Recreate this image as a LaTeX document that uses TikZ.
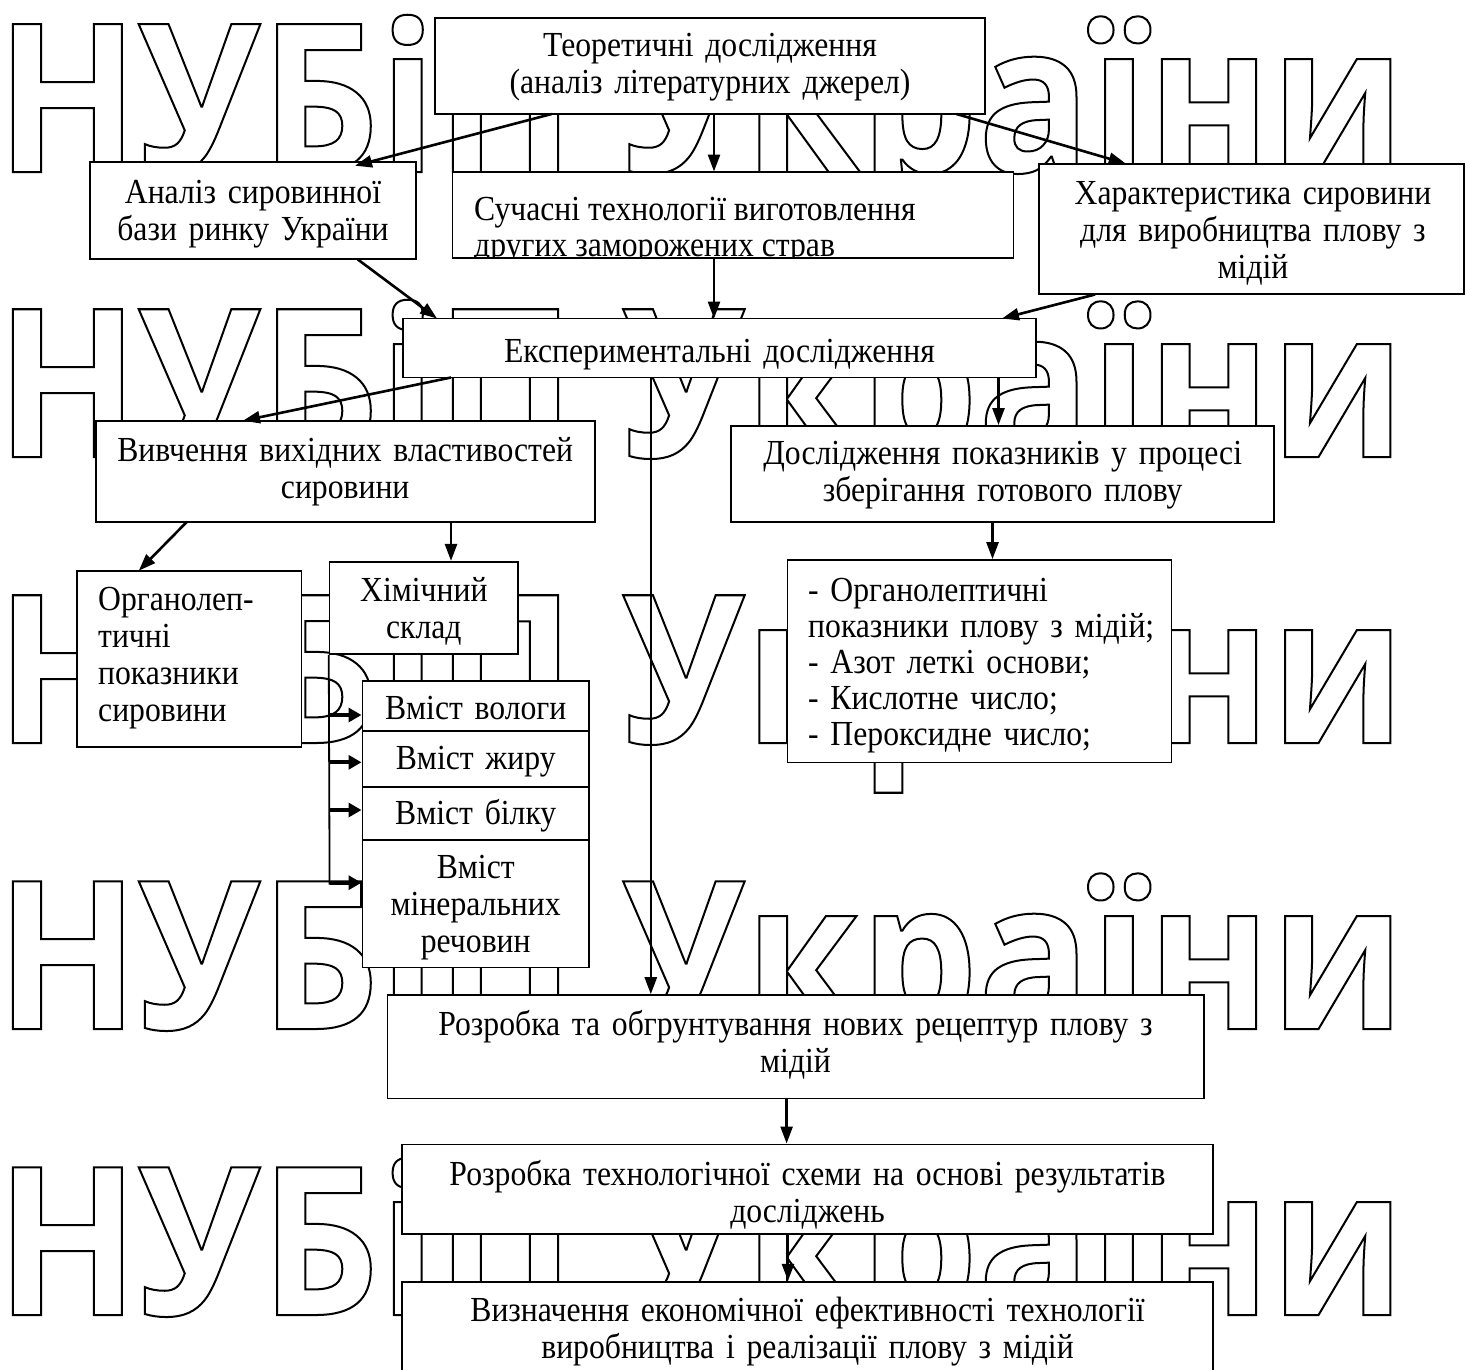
\documentclass[tikz,border=0pt]{standalone}
\usepackage{fontspec}
\setmainfont{Liberation Serif}[FakeStretch=0.9]
\newfontfamily\wmfont{Open Sans}[FakeStretch=0.9]
\usetikzlibrary{arrows.meta}
\begin{document}
\begin{tikzpicture}[x=1pt,y=-1pt,
  txt/.style={font=\fontsize{35.2}{37}\selectfont, inner sep=0pt},
  ctxt/.style={txt, align=center, anchor=base},
  ltxt/.style={txt, align=left, anchor=base west},
  box/.style={draw, line width=1.7pt, fill=white, inner sep=0pt},
  conn/.style={line width=2.6pt, -{Triangle[length=17pt,width=12pt]}},
  plain/.style={line width=1.8pt},
  fat/.style={line width=4pt, -{Triangle[length=13pt,width=14pt]}},
  wm/.style={anchor=base west, inner sep=0pt, font=\wmfont\bfseries\fontsize{207}{207}\selectfont}
]
\useasboundingbox (0,0) rectangle (1466,1369);
\fill[white] (0,0) rectangle (1466,1369);
% watermark
\foreach \yy [count=\i] in {172,457,743,1029,1315}
  \node[wm] (wm\i) at (-4,\yy) {\special{pdf:literal direct 1 Tr 2 w}НУБіП України\special{pdf:literal direct 0 Tr}};
% boxes
\node[box, minimum width=550pt, minimum height=96pt] (teor) at (710,66) {};
\node[ctxt, text width=550pt] (teort) at (710,56.5) {Теоретичні дослідження\\(аналіз літературних джерел)};
\node[box, minimum width=326pt, minimum height=97pt] (anal) at (253,210.5) {};
\node[ctxt, text width=326pt] (analt) at (253,203) {Аналіз сировинної\\бази ринку України};
\node[box, minimum width=561pt, minimum height=86pt] (such) at (733,215.3) {};
\begin{scope}
  \clip (452,172) rectangle (1013,257.4);
  \node[txt, anchor=base west] (such1) at (474,220) {Сучасні технології виготовлення};
  \node[txt, anchor=base west] (such2) at (474,256) {других заморожених страв};
\end{scope}
\node[box, minimum width=425pt, minimum height=130pt] (char) at (1251.5,229) {};
\node[ctxt, text width=425pt] (chart) at (1253,204.5) {Характеристика сировини\\для виробництва плову з\\мідій};
\node[box, minimum width=633pt, minimum height=59pt] (eksp) at (719.5,348) {};
\node[ctxt, text width=633pt] (ekspt) at (719.5,362) {Експериментальні дослідження};
\node[box, minimum width=499pt, minimum height=101pt] (vyv) at (345.2,471.2) {};
\node[ctxt, text width=499pt] (vyvt) at (345.2,461) {Вивчення вихідних властивостей\\сировини};
\node[box, minimum width=543pt, minimum height=96pt] (dosl) at (1002.7,473.9) {};
\node[ctxt, text width=543pt] (doslt) at (1002.7,464) {Дослідження показників у процесі\\зберігання готового плову};
\node[box, minimum width=224.5pt, minimum height=176pt] (org) at (189.2,658.7) {};
\node[ltxt, text width=200pt] (orgt) at (98,610) {Органолеп-\\тичні\\показники\\сировини};
\node[box, minimum width=188.4pt, minimum height=92.3pt] (him) at (423.8,607.9) {};
\node[ctxt, text width=188pt] (himt) at (423.8,601) {Хімічний\\склад};
\node[box, minimum width=226.7pt, minimum height=50.3pt] (s1) at (475.7,705.9) {};
\node[ctxt, text width=226pt] (s1t) at (475.7,719) {Вміст вологи};
\node[box, minimum width=226.7pt, minimum height=55.7pt] (s2) at (475.7,758.9) {};
\node[ctxt, text width=226pt] (s2t) at (475.7,769) {Вміст жиру};
\node[box, minimum width=226.7pt, minimum height=53.3pt] (s3) at (475.7,813.4) {};
\node[ctxt, text width=226pt] (s3t) at (475.7,824) {Вміст білку};
\node[box, minimum width=226.7pt, minimum height=127.3pt] (s4) at (475.7,903.7) {};
\node[ctxt, text width=226pt] (s4t) at (475.7,878) {Вміст\\мінеральних\\речовин};
\node[box, minimum width=384pt, minimum height=202.5pt] (list) at (979.5,661.2) {};
\node[ltxt, text width=370pt, font=\fontsize{35.2}{36.2}\selectfont] (listt) at (808,601) {- Органолептичні\\показники плову з мідій;\\- Азот леткі основи;\\- Кислотне число;\\- Пероксидне число;};
\node[box, minimum width=816.3pt, minimum height=103.3pt] (rozr1) at (795.5,1046.7) {};
\node[ctxt, text width=816pt] (rozr1t) at (795.5,1035.5) {Розробка та обгрунтування нових рецептур плову з\\мідій};
\node[box, minimum width=811pt, minimum height=89.7pt] (rozr2) at (807.5,1189.2) {};
\node[ctxt, text width=811pt] (rozr2t) at (807.5,1185) {Розробка технологічної схеми на основі результатів\\досліджень};
\node[box, minimum width=811pt, minimum height=130pt] (vyzn) at (807.5,1346.7) {};
\node[ctxt, text width=811pt] (vyznt) at (807.5,1321.5) {Визначення економічної ефективності технології\\виробництва і реалізації плову з мідій};
% connectors
\coordinate (t1) at (551.6,114);
\coordinate (t2) at (714,114);
\coordinate (t3) at (956.5,114);
\draw[conn] (t1) -- (355,165.7) coordinate (a1);
\draw[conn] (t2) -- (714,171.5) coordinate (a2);
\draw[conn] (t3) -- (1125.7,163.5) coordinate (a3);
\coordinate (n1) at (357.6,259.3);
\draw[conn] (n1) -- (437,318.5) coordinate (a4);
\coordinate (n2) at (714,258.3);
\draw[conn] (n2) -- (714,318.5) coordinate (a5);
\coordinate (n3) at (1095,294.5);
\draw[conn] (n3) -- (1002,318.5) coordinate (a6);
\coordinate (e1) at (451,377.5);
\draw[conn] (e1) -- (243,420.7) coordinate (a7);
\coordinate (e2) at (650.8,377.5);
\draw[conn] (e2) -- (e2 |- rozr1.north);
\coordinate (e3) at (998.5,377.5);
\draw[conn] (e3) -- (e3 |- dosl.north);
\coordinate (v1) at (187,521.7);
\draw[conn] (v1) -- (138.8,570.7) coordinate (a8);
\coordinate (v2) at (451,521.7);
\draw[conn] (v2) -- (v2 |- him.north);
\coordinate (d1) at (992.5,521.7);
\draw[conn] (d1) -- (d1 |- list.north);
\coordinate (busend) at (329.6,884.5);
\draw[plain] (him.south west) -- (busend);
\foreach \yy [count=\i] in {715,762.3,810,882.7}{
  \coordinate (b\i) at (329.6,\yy);
}
\draw[fat] (b1) -- (b1 -| s1.west);
\draw[fat] (b2) -- (b2 -| s2.west);
\draw[fat] (b3) -- (b3 -| s3.west);
\draw[fat] (b4) -- (b4 -| s4.west);
\coordinate (r1) at (786.6,1098.3);
\draw[conn] (r1) -- (r1 |- rozr2.north);
\coordinate (r2) at (788,1234);
\draw[conn] (r2) -- (r2 |- vyzn.north);
\end{tikzpicture}
\end{document}
